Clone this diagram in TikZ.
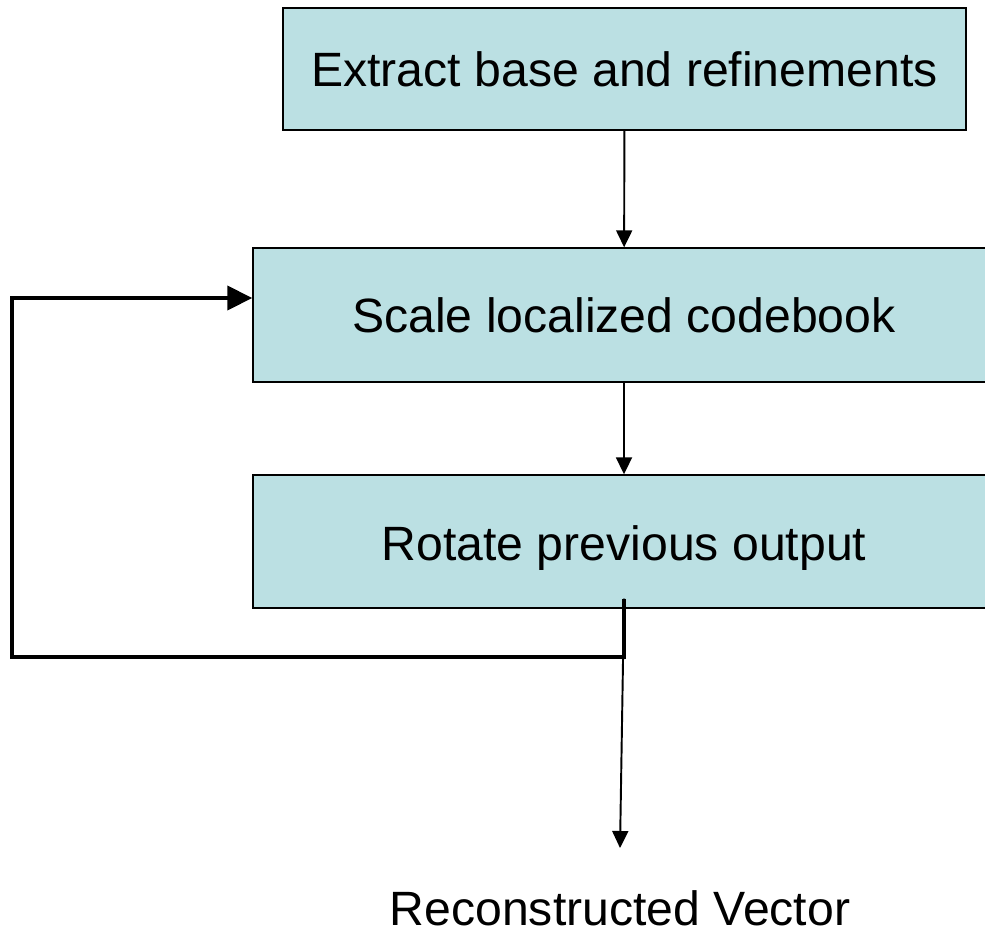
\documentclass[tikz,border=0pt]{standalone}
\usepackage{fontspec}
\setmainfont{Liberation Sans}
\usetikzlibrary{arrows.meta, calc}
\definecolor{boxfill}{RGB}{187,224,227}

\begin{document}
\begin{tikzpicture}[font=\fontsize{27.4}{32}\selectfont]
\tikzset{stepbox/.style={draw, line width=0.8pt, fill=boxfill, rectangle, inner sep=0pt},
  link/.style={line width=1.1pt, -{Triangle[width=0.32cm, length=0.34cm]}},
  back/.style={line width=2.2pt, -{Triangle[width=0.48cm, length=0.5cm]}}}
\useasboundingbox (0,0) rectangle (19.7,-18.68);
\node[stepbox, minimum width=13.66cm, minimum height=2.44cm] (extract) at (12.49,-1.38) {Extract base and refinements};
\node[stepbox, minimum width=14.84cm, minimum height=2.68cm] (scale) at (12.48,-6.3) {Scale localized codebook};
\node[stepbox, minimum width=14.84cm, minimum height=2.66cm] (rotate) at (12.48,-10.83) {\raisebox{-0.13cm}[\height][\depth]{Rotate previous output}};
\node[inner sep=0pt, anchor=base] (recon) at (12.4,-18.5) {Reconstructed Vector};
\coordinate (loop) at (0.24,-13.14); \coordinate (out) at (12.4,-16.96);
\draw[link] (extract) -- (scale); \draw[link] (scale) -- (rotate);
\draw[back] ([yshift=0.2cm]rotate.south) |- (loop) |- ([yshift=0.34cm]scale.west);
\draw[link] ([yshift=0.2cm]rotate.south) -- (out);
\end{tikzpicture}
\end{document}
